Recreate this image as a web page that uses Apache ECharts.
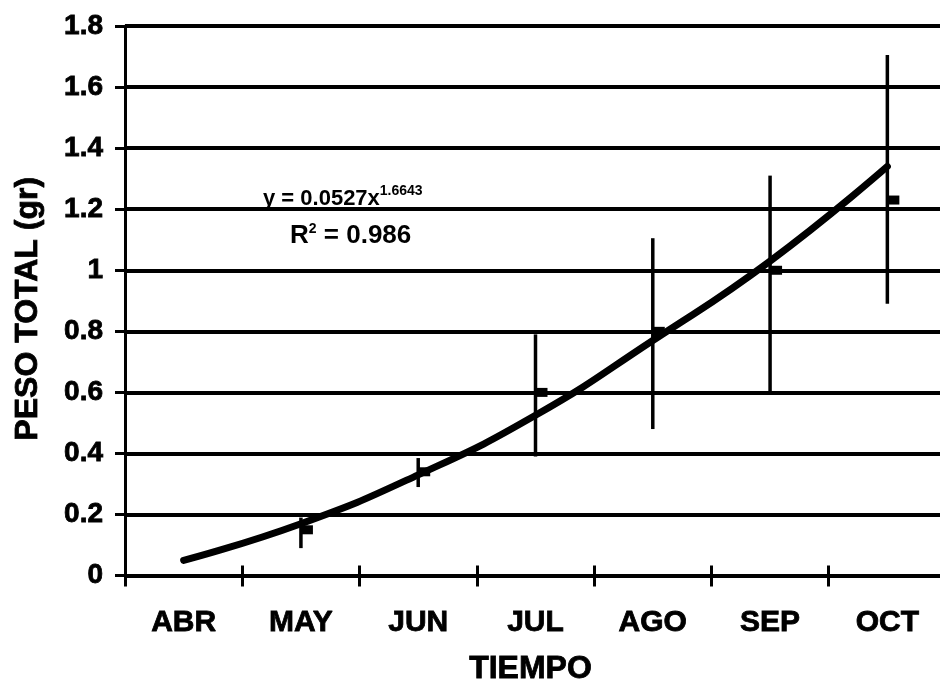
<!DOCTYPE html>
<html><head><meta charset="utf-8">
<script src="https://cdn.jsdelivr.net/npm/echarts@6/dist/echarts.min.js"></script>
<style>html,body{margin:0;padding:0;background:#fff;overflow:hidden;width:940px;height:691px}
#wrap{position:relative;width:940px;height:691px;overflow:hidden}
#c{position:absolute;left:0;top:0;width:946px;height:691px}</style>
</head><body><div id="wrap"><div id="c"></div></div>
<script>
var categories = ['ABR','MAY','JUN','JUL','AGO','SEP','OCT'];
var yTicks = [0,0.2,0.4,0.6,0.8,1,1.2,1.4,1.6,1.8];
// measured means (MAY..OCT)
var meanValues = [null,0.15,0.34,0.60,0.80,1.00,1.23];
var errLow  = [null,0.09,0.29,0.39,0.48,0.60,0.89];
var errHigh = [null,0.19,0.385,0.79,1.105,1.31,1.705];
// power trend line
var trendValues = [0.05,0.17,0.33,0.525,0.77,1.03,1.34];
var eqText = 'y = 0.0527x';
var eqExp = '1.6643';
var r2Text = '0.986';

var FONT = 'Liberation Sans, Arial, sans-serif';
var HEAVY = {textBorderColor: '#000', textBorderWidth: 0.8};
var chart = echarts.init(document.getElementById('c'));
var errData = [];
for (var i = 0; i < categories.length; i++) {
  if (meanValues[i] != null) errData.push([i, errLow[i], errHigh[i]]);
}
var meanData = [];
for (var j = 0; j < categories.length; j++) {
  if (meanValues[j] != null) meanData.push([j, meanValues[j]]);
}
chart.setOption({
  animation: false,
  backgroundColor: '#fff',
  grid: {left: 125, top: 26, width: 821, height: 552, containLabel: false},
  xAxis: [{
    type: 'category', data: categories, boundaryGap: true,
    name: 'TIEMPO', nameLocation: 'middle', nameGap: 78,
    nameTextStyle: Object.assign({color: '#000', fontFamily: FONT, fontWeight: 'bold', fontSize: 32, padding: [0, 10, 0, 0]}, HEAVY),
    axisLine: {lineStyle: {color: '#000', width: 3}},
    axisTick: {show: true, length: 11, lineStyle: {color: '#000', width: 3}, alignWithLabel: false},
    axisLabel: Object.assign({color: '#000', fontFamily: FONT, fontWeight: 'bold', fontSize: 30, margin: 32}, HEAVY),
    splitLine: {show: false}
  }, {
    type: 'category', data: categories, boundaryGap: true, position: 'bottom',
    axisLine: {show: false},
    axisTick: {show: true, inside: true, length: 10, lineStyle: {color: '#000', width: 3}},
    axisLabel: {show: false}, splitLine: {show: false}
  }],
  yAxis: {
    type: 'value', min: 0, max: 1.8, interval: 0.2,
    name: 'PESO TOTAL (gr)', nameLocation: 'middle', nameGap: 81,
    nameTextStyle: Object.assign({color: '#000', fontFamily: FONT, fontWeight: 'bold', fontSize: 32, padding: [0, 16, 0, 0]}, HEAVY),
    axisLine: {show: true, lineStyle: {color: '#000', width: 3}},
    axisTick: {show: true, length: 10, lineStyle: {color: '#000', width: 3}},
    axisLabel: Object.assign({color: '#000', fontFamily: FONT, fontWeight: 'bold', fontSize: 28, margin: 22,
      formatter: function (v) { var s = String(Math.round(v * 10) / 10); return yTicks.indexOf(+s) >= 0 ? s : ''; }}, HEAVY),
    splitLine: {show: true, lineStyle: {color: '#000', width: 4}}
  },
  series: [{
    type: 'custom', xAxisIndex: 0, data: errData, z: 3,
    renderItem: function (params, api) {
      var x = api.value(0);
      var p1 = api.coord([x, api.value(1)]);
      var p2 = api.coord([x, api.value(2)]);
      return {type: 'line', shape: {x1: p1[0], y1: p1[1], x2: p2[0], y2: p2[1]},
        style: {stroke: '#000', lineWidth: 3.5}};
    }
  }, {
    type: 'scatter', data: meanData, symbol: 'rect', symbolSize: [12, 9], symbolOffset: [6, 0],
    itemStyle: {color: '#000', opacity: 1}, z: 4
  }, {
    type: 'line', data: trendValues, smooth: true, showSymbol: false, symbol: 'none',
    lineStyle: {color: '#000', width: 7, cap: 'round'}, z: 5
  }],
  graphic: [{
    type: 'text', left: 263, top: 184, z: 10,
    style: {
      text: '{m|' + eqText + '}{s|' + eqExp + '}',
      rich: {
        m: {fontFamily: FONT, fontWeight: 'bold', fontSize: 22, fill: '#000', lineHeight: 30},
        s: {fontFamily: FONT, fontWeight: 'bold', fontSize: 14, fill: '#000', lineHeight: 30, padding: [0, 0, 16, 0]}
      }
    }
  }, {
    type: 'text', left: 290, top: 222, z: 10,
    style: {
      text: '{m|R}{s|2}{m| = ' + r2Text + '}',
      rich: {
        m: {fontFamily: FONT, fontWeight: 'bold', fontSize: 26, fill: '#000', lineHeight: 30},
        s: {fontFamily: FONT, fontWeight: 'bold', fontSize: 14, fill: '#000', lineHeight: 30, padding: [0, 0, 14, 0]}
      }
    }
  }]
});
</script></body></html>
